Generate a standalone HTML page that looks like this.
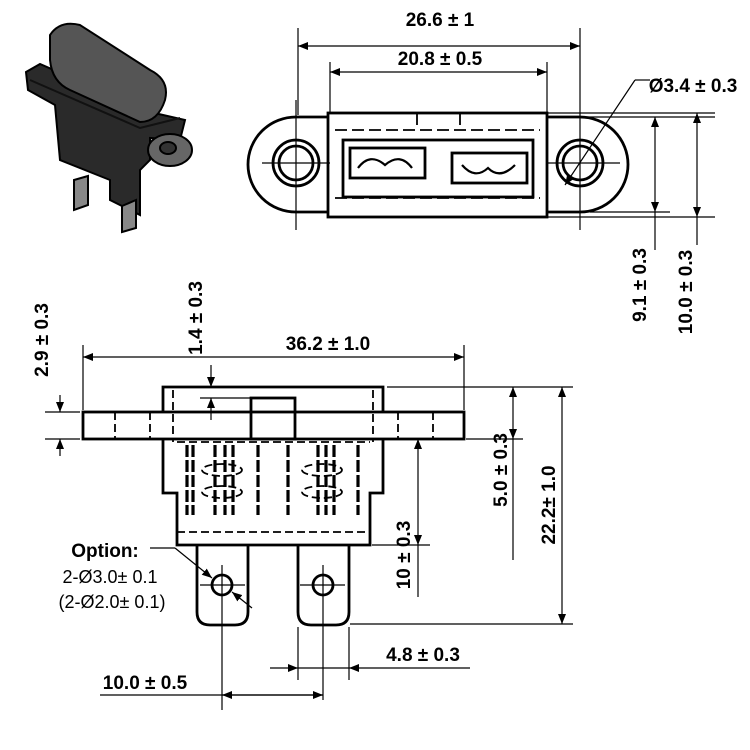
<!DOCTYPE html>
<html><head><style>body{margin:0;background:#fff}svg{display:block}</style></head><body>
<svg width="750" height="750" viewBox="0 0 750 750" xmlns="http://www.w3.org/2000/svg" font-family="Liberation Sans, sans-serif" font-weight="bold">
<defs>
<marker id="a" markerWidth="10" markerHeight="8" refX="10" refY="4" orient="auto-start-reverse" markerUnits="userSpaceOnUse"><path d="M0,0 L10,4 L0,8 z" fill="#000"/></marker>
</defs>
<!-- photo -->
<g stroke="#000" stroke-width="2">
<path d="M26,72 L40,64 L150,112 L185,120 L180,140 L150,138 L150,160 L140,170 L140,215 L110,200 L110,180 L60,160 L55,105 L28,90 z" fill="#2a2a2a"/>
<path d="M50,35 Q60,20 80,25 L150,70 Q170,80 165,100 Q158,122 140,122 L70,90 Q52,82 50,60 z" fill="#555"/>
<path d="M30,80 L140,128 L180,118" fill="none" stroke="#111"/>
<ellipse cx="170" cy="150" rx="22" ry="16" fill="#666"/>
<ellipse cx="168" cy="148" rx="8" ry="6" fill="#333"/>
<path d="M74,180 L88,176 L88,205 L74,210 z" fill="#888"/>
<path d="M122,206 L136,200 L136,228 L122,232 z" fill="#888"/>
</g>
<!-- top view -->
<g fill="none" stroke="#000" stroke-width="2.8">
<path d="M328,117 L296,117 A48,47.5 0 0 0 296,212 L328,212"/>
<path d="M547,117 L580,117 A48,47.5 0 0 1 580,212 L547,212"/>
<rect x="328" y="113" width="219" height="104"/>
<circle cx="296" cy="163" r="23"/><circle cx="296" cy="163" r="17"/>
<circle cx="580" cy="163" r="23"/><circle cx="580" cy="163" r="17"/>
<rect x="343" y="140" width="190" height="57"/>
<rect x="350" y="148" width="75" height="30"/>
<rect x="452" y="153" width="75" height="30"/>
<path d="M358,168 Q370,152 385,165 Q400,152 412,168" stroke-width="2.2"/>
<path d="M462,165 Q475,180 488,168 Q500,180 515,165" stroke-width="2.2"/>
</g>
<g stroke="#000" stroke-width="1.8" fill="none" stroke-dasharray="12,5">
<line x1="335" y1="130" x2="540" y2="130"/><line x1="335" y1="198" x2="540" y2="198"/>
<line x1="417" y1="113" x2="417" y2="130"/><line x1="460" y1="113" x2="460" y2="130"/>
</g>
<g stroke="#000" stroke-width="1.2" fill="none">
<line x1="262" y1="163" x2="330" y2="163"/><line x1="296" y1="100" x2="296" y2="230"/>
<line x1="548" y1="163" x2="620" y2="163"/><line x1="580" y1="28" x2="580" y2="230"/>
<line x1="298" y1="28" x2="298" y2="115"/>
<line x1="330" y1="62" x2="330" y2="112"/><line x1="547" y1="62" x2="547" y2="112"/>
<line x1="298" y1="46" x2="580" y2="46" marker-start="url(#a)" marker-end="url(#a)"/>
<line x1="330" y1="72" x2="547" y2="72" marker-start="url(#a)" marker-end="url(#a)"/>
<line x1="548" y1="113" x2="715" y2="113"/><line x1="548" y1="117" x2="715" y2="117"/>
<line x1="590" y1="212" x2="670" y2="212"/><line x1="548" y1="217" x2="715" y2="217"/>
<line x1="655" y1="117" x2="655" y2="212" marker-start="url(#a)" marker-end="url(#a)"/>
<line x1="655" y1="212" x2="655" y2="250"/>
<line x1="697" y1="113" x2="697" y2="217" marker-start="url(#a)" marker-end="url(#a)"/>
<line x1="697" y1="217" x2="697" y2="245"/>
<line x1="565" y1="185" x2="635" y2="80" marker-start="url(#a)"/>
<line x1="635" y1="80" x2="650" y2="80"/>
</g>
<g font-size="19" text-anchor="middle">
<text x="440" y="26">26.6 ± 1</text>
<text x="440" y="65">20.8 ± 0.5</text>
<text x="693" y="92">Ø3.4 ± 0.3</text>
<text transform="translate(646,285) rotate(-90)">9.1 ± 0.3</text>
<text transform="translate(692,292) rotate(-90)">10.0 ± 0.3</text>
</g>
<!-- side view -->
<g fill="none" stroke="#000" stroke-width="2.8">
<rect x="83" y="412" width="381" height="27"/>
<path d="M163,412 L163,387 L383,387 L383,412"/>
<path d="M163,439 L163,493 L177,493 L177,545 L370,545 L370,493 L383,493 L383,439"/>
<rect x="251" y="398" width="44" height="41"/>
<path d="M197,545 L197,612 Q197,625 210,625 L235,625 Q248,625 248,612 L248,545"/>
<path d="M298,545 L298,612 Q298,625 311,625 L336,625 Q349,625 349,612 L349,545"/>
<circle cx="222" cy="585" r="10"/><circle cx="323" cy="585" r="10"/>
</g>
<g stroke="#000" stroke-width="3.2" stroke-dasharray="12,3">
<line x1="187" y1="445" x2="187" y2="515"/><line x1="193" y1="445" x2="193" y2="515"/>
<line x1="215" y1="445" x2="215" y2="515"/><line x1="225" y1="445" x2="225" y2="515"/>
<line x1="233" y1="445" x2="233" y2="515"/><line x1="258" y1="445" x2="258" y2="515"/>
<line x1="288" y1="445" x2="288" y2="515"/><line x1="318" y1="445" x2="318" y2="515"/>
<line x1="326" y1="445" x2="326" y2="515"/><line x1="334" y1="445" x2="334" y2="515"/>
<line x1="358" y1="445" x2="358" y2="515"/>
</g>
<g stroke="#000" stroke-width="1.8" fill="none" stroke-dasharray="8,4">
<line x1="115" y1="412" x2="115" y2="439"/><line x1="150" y1="412" x2="150" y2="439"/>
<line x1="398" y1="412" x2="398" y2="439"/><line x1="433" y1="412" x2="433" y2="439"/>
<line x1="173" y1="390" x2="173" y2="442"/><line x1="373" y1="390" x2="373" y2="442"/>
<line x1="177" y1="442" x2="370" y2="442"/><line x1="177" y1="532" x2="370" y2="532"/>
<ellipse cx="222" cy="470" rx="20" ry="6"/><ellipse cx="222" cy="492" rx="20" ry="6"/>
<ellipse cx="322" cy="470" rx="20" ry="6"/><ellipse cx="322" cy="492" rx="20" ry="6"/>
</g>
<g stroke="#000" stroke-width="1.2" fill="none">
<line x1="45" y1="412" x2="80" y2="412"/><line x1="45" y1="439" x2="80" y2="439"/>
<line x1="60" y1="395" x2="60" y2="412" marker-end="url(#a)"/><line x1="60" y1="456" x2="60" y2="439" marker-end="url(#a)"/>
<line x1="200" y1="398" x2="250" y2="398"/>
<line x1="211" y1="365" x2="211" y2="387" marker-end="url(#a)"/><line x1="211" y1="420" x2="211" y2="398" marker-end="url(#a)"/>
<line x1="83" y1="345" x2="83" y2="410"/><line x1="464" y1="345" x2="464" y2="410"/>
<line x1="83" y1="357" x2="464" y2="357" marker-start="url(#a)" marker-end="url(#a)"/>
<line x1="387" y1="387" x2="573" y2="387"/><line x1="466" y1="439" x2="523" y2="439"/>
<line x1="513" y1="387" x2="513" y2="439" marker-start="url(#a)" marker-end="url(#a)"/>
<line x1="513" y1="439" x2="513" y2="560"/>
<line x1="562" y1="387" x2="562" y2="624" marker-start="url(#a)" marker-end="url(#a)"/>
<line x1="350" y1="624" x2="573" y2="624"/>
<line x1="372" y1="545" x2="430" y2="545"/>
<line x1="418" y1="439" x2="418" y2="545" marker-start="url(#a)" marker-end="url(#a)"/>
<line x1="418" y1="545" x2="418" y2="597"/>
<line x1="222" y1="565" x2="222" y2="710"/><line x1="323" y1="565" x2="323" y2="700"/>
<line x1="200" y1="585" x2="245" y2="585"/><line x1="300" y1="585" x2="345" y2="585"/>
<line x1="298" y1="627" x2="298" y2="680"/><line x1="349" y1="627" x2="349" y2="680"/>
<line x1="270" y1="668" x2="298" y2="668" marker-end="url(#a)"/>
<line x1="470" y1="668" x2="349" y2="668" marker-end="url(#a)"/>
<line x1="298" y1="668" x2="349" y2="668"/>
<line x1="100" y1="695" x2="323" y2="695"/>
<line x1="222" y1="695" x2="323" y2="695" marker-start="url(#a)" marker-end="url(#a)"/>
<line x1="150" y1="548" x2="175" y2="548"/>
<line x1="175" y1="548" x2="212" y2="578" marker-end="url(#a)"/>
<line x1="252" y1="608" x2="232" y2="592" marker-end="url(#a)"/>
</g>
<g font-size="19" text-anchor="middle">
<text x="328" y="350">36.2 ± 1.0</text>
<text transform="translate(48,340) rotate(-90)">2.9 ± 0.3</text>
<text transform="translate(202,318) rotate(-90)">1.4 ± 0.3</text>
<text transform="translate(507,470) rotate(-90)">5.0 ± 0.3</text>
<text transform="translate(555,505) rotate(-90)">22.2± 1.0</text>
<text transform="translate(410,555) rotate(-90)">10 ± 0.3</text>
<text x="423" y="661">4.8 ± 0.3</text>
<text x="145" y="689">10.0 ± 0.5</text>
<text x="105" y="557">Option:</text>
</g>
<g font-size="18" text-anchor="middle" font-weight="normal">
<text x="110" y="583">2-Ø3.0± 0.1</text>
<text x="112" y="608">(2-Ø2.0± 0.1)</text>
</g>
</svg>
</body></html>
